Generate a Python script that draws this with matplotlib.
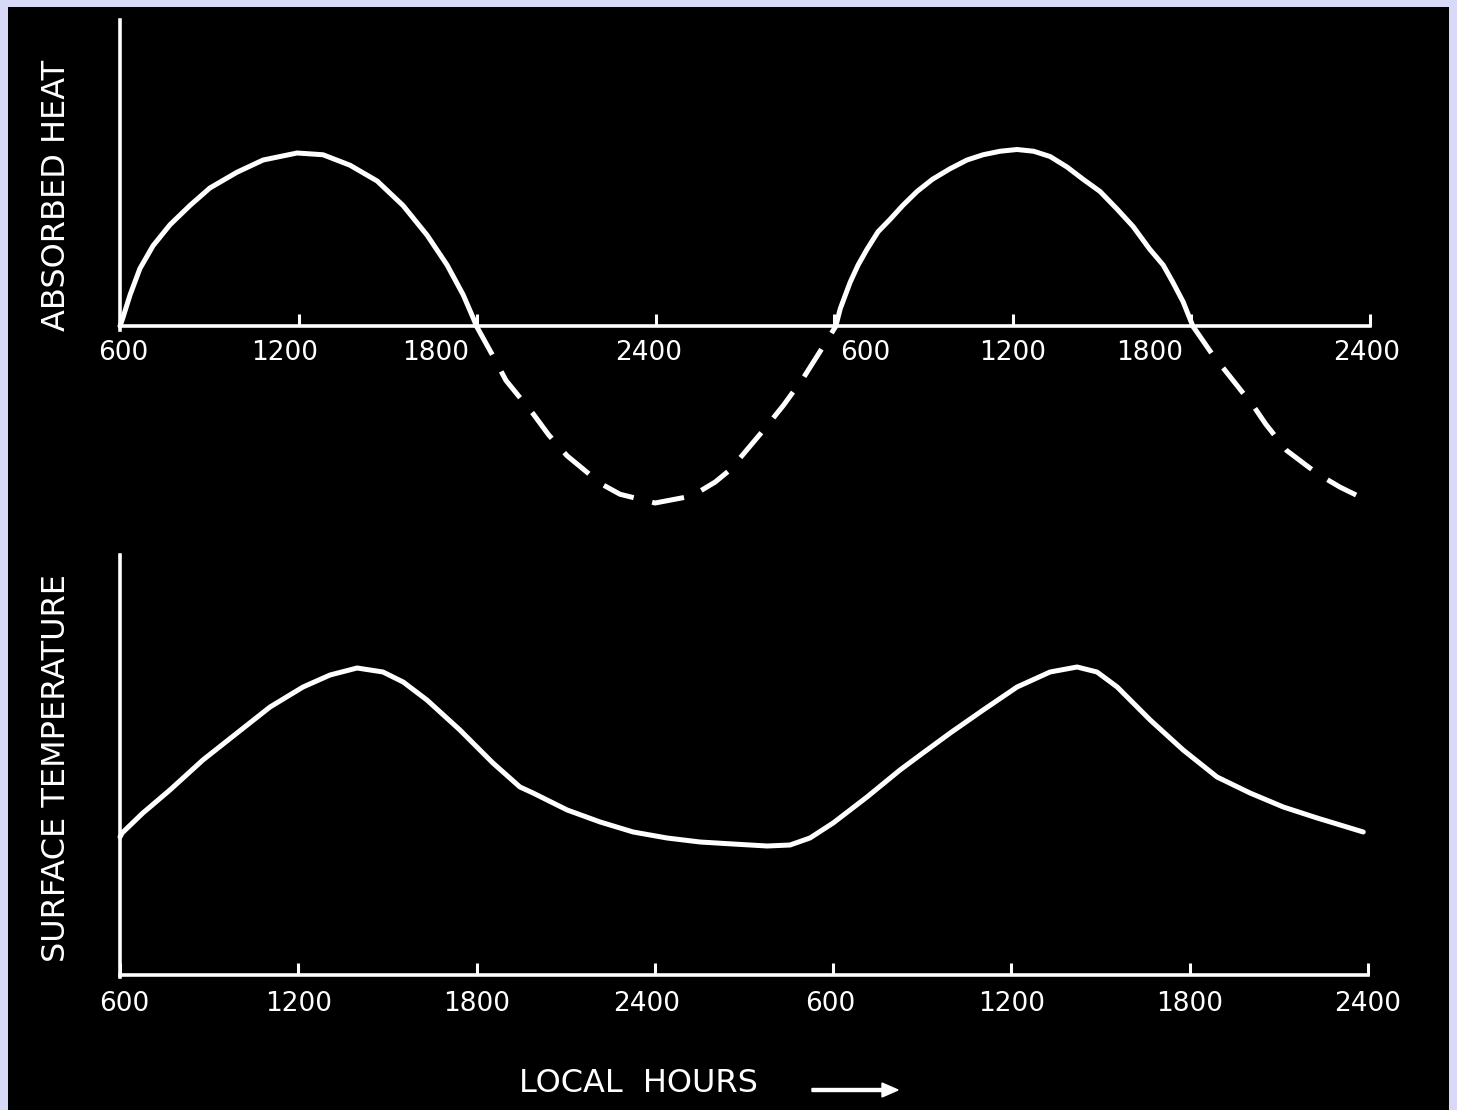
import matplotlib.pyplot as plt
import numpy as np
from matplotlib.patches import Rectangle, FancyArrow

# hours since midnight of day 1 (6 = 0600, 24 = 2400, 30 = 0600 next day ...)
tick_hours = [6, 12, 18, 24, 30, 36, 42, 48]
tick_labels = ['600', '1200', '1800', '2400', '600', '1200', '1800', '2400']

# absorbed heat (peak ~ 1, trough ~ -1)
heat_hours = [6.0, 6.1, 6.34, 6.67, 7.11, 7.68, 8.35, 9.02, 9.93, 10.81, 11.95, 12.82,
              13.73, 14.64, 15.51, 16.32, 16.99, 17.53, 17.86, 17.98,
              18.5, 18.97, 19.88, 20.4, 21.02, 22.16, 22.8, 23.98, 25.22, 26.0, 26.5,
              27.64, 28.3, 28.98, 29.5, 30.05,
              30.2, 30.53, 30.8, 31.1, 31.47, 31.87, 32.3, 32.78, 33.3, 33.89, 34.46,
              35.0, 35.57, 36.14, 36.7, 37.25, 37.82, 38.36, 38.93, 39.5, 40.04,
              40.6, 41.05, 41.38, 41.72, 42.05,
              42.7, 43.4, 44.1, 44.5, 45.2, 45.9, 46.3, 47.0, 47.6]
heat_vals = [0.0, 0.05, 0.18, 0.33, 0.46, 0.58, 0.69, 0.79, 0.88, 0.95, 0.99, 0.98,
             0.92, 0.83, 0.69, 0.52, 0.35, 0.18, 0.05, 0.0,
             -0.16, -0.31, -0.50, -0.62, -0.74, -0.90, -0.96, -1.01, -0.97, -0.89, -0.82,
             -0.59, -0.45, -0.29, -0.15, 0.0,
             0.10, 0.25, 0.35, 0.44, 0.54, 0.61, 0.69, 0.77, 0.84, 0.90, 0.95,
             0.98, 1.0, 1.01, 1.0, 0.97, 0.91, 0.84, 0.77, 0.67, 0.57,
             0.44, 0.35, 0.25, 0.14, 0.0,
             -0.16, -0.31, -0.46, -0.56, -0.71, -0.80, -0.85, -0.92, -0.97]

# surface temperature (arbitrary units)
temp_hours = [6.0, 6.07, 6.77, 7.68, 8.79, 9.94, 11.05, 12.16, 13.07, 13.98, 14.85,
              15.53, 16.33, 17.44, 18.55, 19.46, 19.9, 21.05, 22.16, 23.27, 24.41,
              25.52, 26.63, 27.78, 28.55, 29.22, 30.0, 31.14, 32.25, 32.93, 33.94,
              35.05, 36.19, 37.3, 38.21, 38.88, 39.56, 40.67, 41.78, 42.92, 44.03,
              45.15, 46.29, 47.84]
temp_vals = [1.38, 1.42, 1.62, 1.85, 2.15, 2.42, 2.68, 2.88, 3.00, 3.07, 3.03,
             2.93, 2.75, 2.45, 2.12, 1.88, 1.82, 1.65, 1.53, 1.43, 1.37,
             1.33, 1.31, 1.29, 1.30, 1.37, 1.52, 1.78, 2.05, 2.20, 2.42,
             2.65, 2.88, 3.03, 3.08, 3.03, 2.88, 2.55, 2.25, 1.98, 1.82,
             1.68, 1.57, 1.43]

W, H = 1457, 1110
fig = plt.figure(figsize=(W / 100, H / 100), dpi=100, facecolor='#d8d8f8')
fig.patches.append(Rectangle((8 / W, 0), 1441 / W, 1103 / H, transform=fig.transFigure,
                             facecolor='black', edgecolor='none', zorder=-10))

white = 'white'
lw_curve = 3.6
lw_axis = 2.6


def style_axis(ax, ytop):
    ax.set_facecolor('none')
    ax.set_zorder(2)
    ax.set_xlim(6, 48)
    for s in ['top', 'right']:
        ax.spines[s].set_visible(False)
    ax.spines['left'].set_color(white)
    ax.spines['bottom'].set_color(white)
    ax.spines['left'].set_linewidth(lw_axis)
    ax.spines['bottom'].set_linewidth(lw_axis)
    ax.spines['bottom'].set_position(('data', 0))
    ax.spines['left'].set_bounds(-0.02, ytop)
    ax.set_yticks([])
    ax.set_xticks(tick_hours)
    ax.set_xticklabels([])
    ax.tick_params(axis='x', direction='in', length=9, width=2.2, color=white)


# top panel: absorbed heat
ax1 = fig.add_axes([120 / W, (H - 510) / H, 1250 / W, 490 / H])
style_axis(ax1, 1.75)
ax1.set_ylim(-1.05, 1.75)
hv = np.array(heat_vals)
hh = np.array(heat_hours)
ax1.plot(hh, np.where(hv >= 0, hv, np.nan), color=white, lw=lw_curve,
         solid_capstyle='round', solid_joinstyle='round', clip_on=False)
ax1.plot(hh, np.where(hv <= 0, hv, np.nan), color=white, lw=lw_curve,
         linestyle=(0, (6.5, 3.8)), dash_joinstyle='round', clip_on=False)

top_dx = [0.1, -0.47, -1.41, -0.24, 1.04, 0.0, -1.41, -0.1]
for x, lab, dx in zip(tick_hours, tick_labels, top_dx):
    ax1.text(x + dx, -0.15, lab, color=white, fontsize=19, ha='center', va='center',
             clip_on=False)

# bottom panel: surface temperature
ax2 = fig.add_axes([120 / W, (H - 975) / H, 1248 / W, 420 / H])
style_axis(ax2, 4.2)
ax2.set_ylim(0, 4.2)
ax2.plot(temp_hours, temp_vals, color=white, lw=lw_curve, solid_capstyle='round',
         solid_joinstyle='round', clip_on=False)

bot_dx = [0.13, 0.0, 0.0, -0.27, -0.1, 0.0, 0.0, 0.0]
for x, lab, dx in zip(tick_hours, tick_labels, bot_dx):
    ax2.text(x + dx, -0.29, lab, color=white, fontsize=19, ha='center', va='center',
             clip_on=False)

fig.text(57 / W, 1 - 195 / H, 'ABSORBED HEAT', color=white, fontsize=23,
         rotation=90, ha='center', va='center')
fig.text(57 / W, 1 - 768 / H, 'SURFACE TEMPERATURE', color=white, fontsize=23,
         rotation=90, ha='center', va='center')
fig.text(638 / W, 1 - 1083 / H, 'LOCAL  HOURS', color=white, fontsize=23,
         ha='center', va='center')
fig.patches.append(FancyArrow(
    812 / W, 1 - 1090 / H, 70 / W, 0, width=3 / H, head_width=14 / H,
    head_length=16 / W, length_includes_head=False, transform=fig.transFigure,
    color=white))

fig.savefig('out.png', dpi=100, facecolor=fig.get_facecolor())
